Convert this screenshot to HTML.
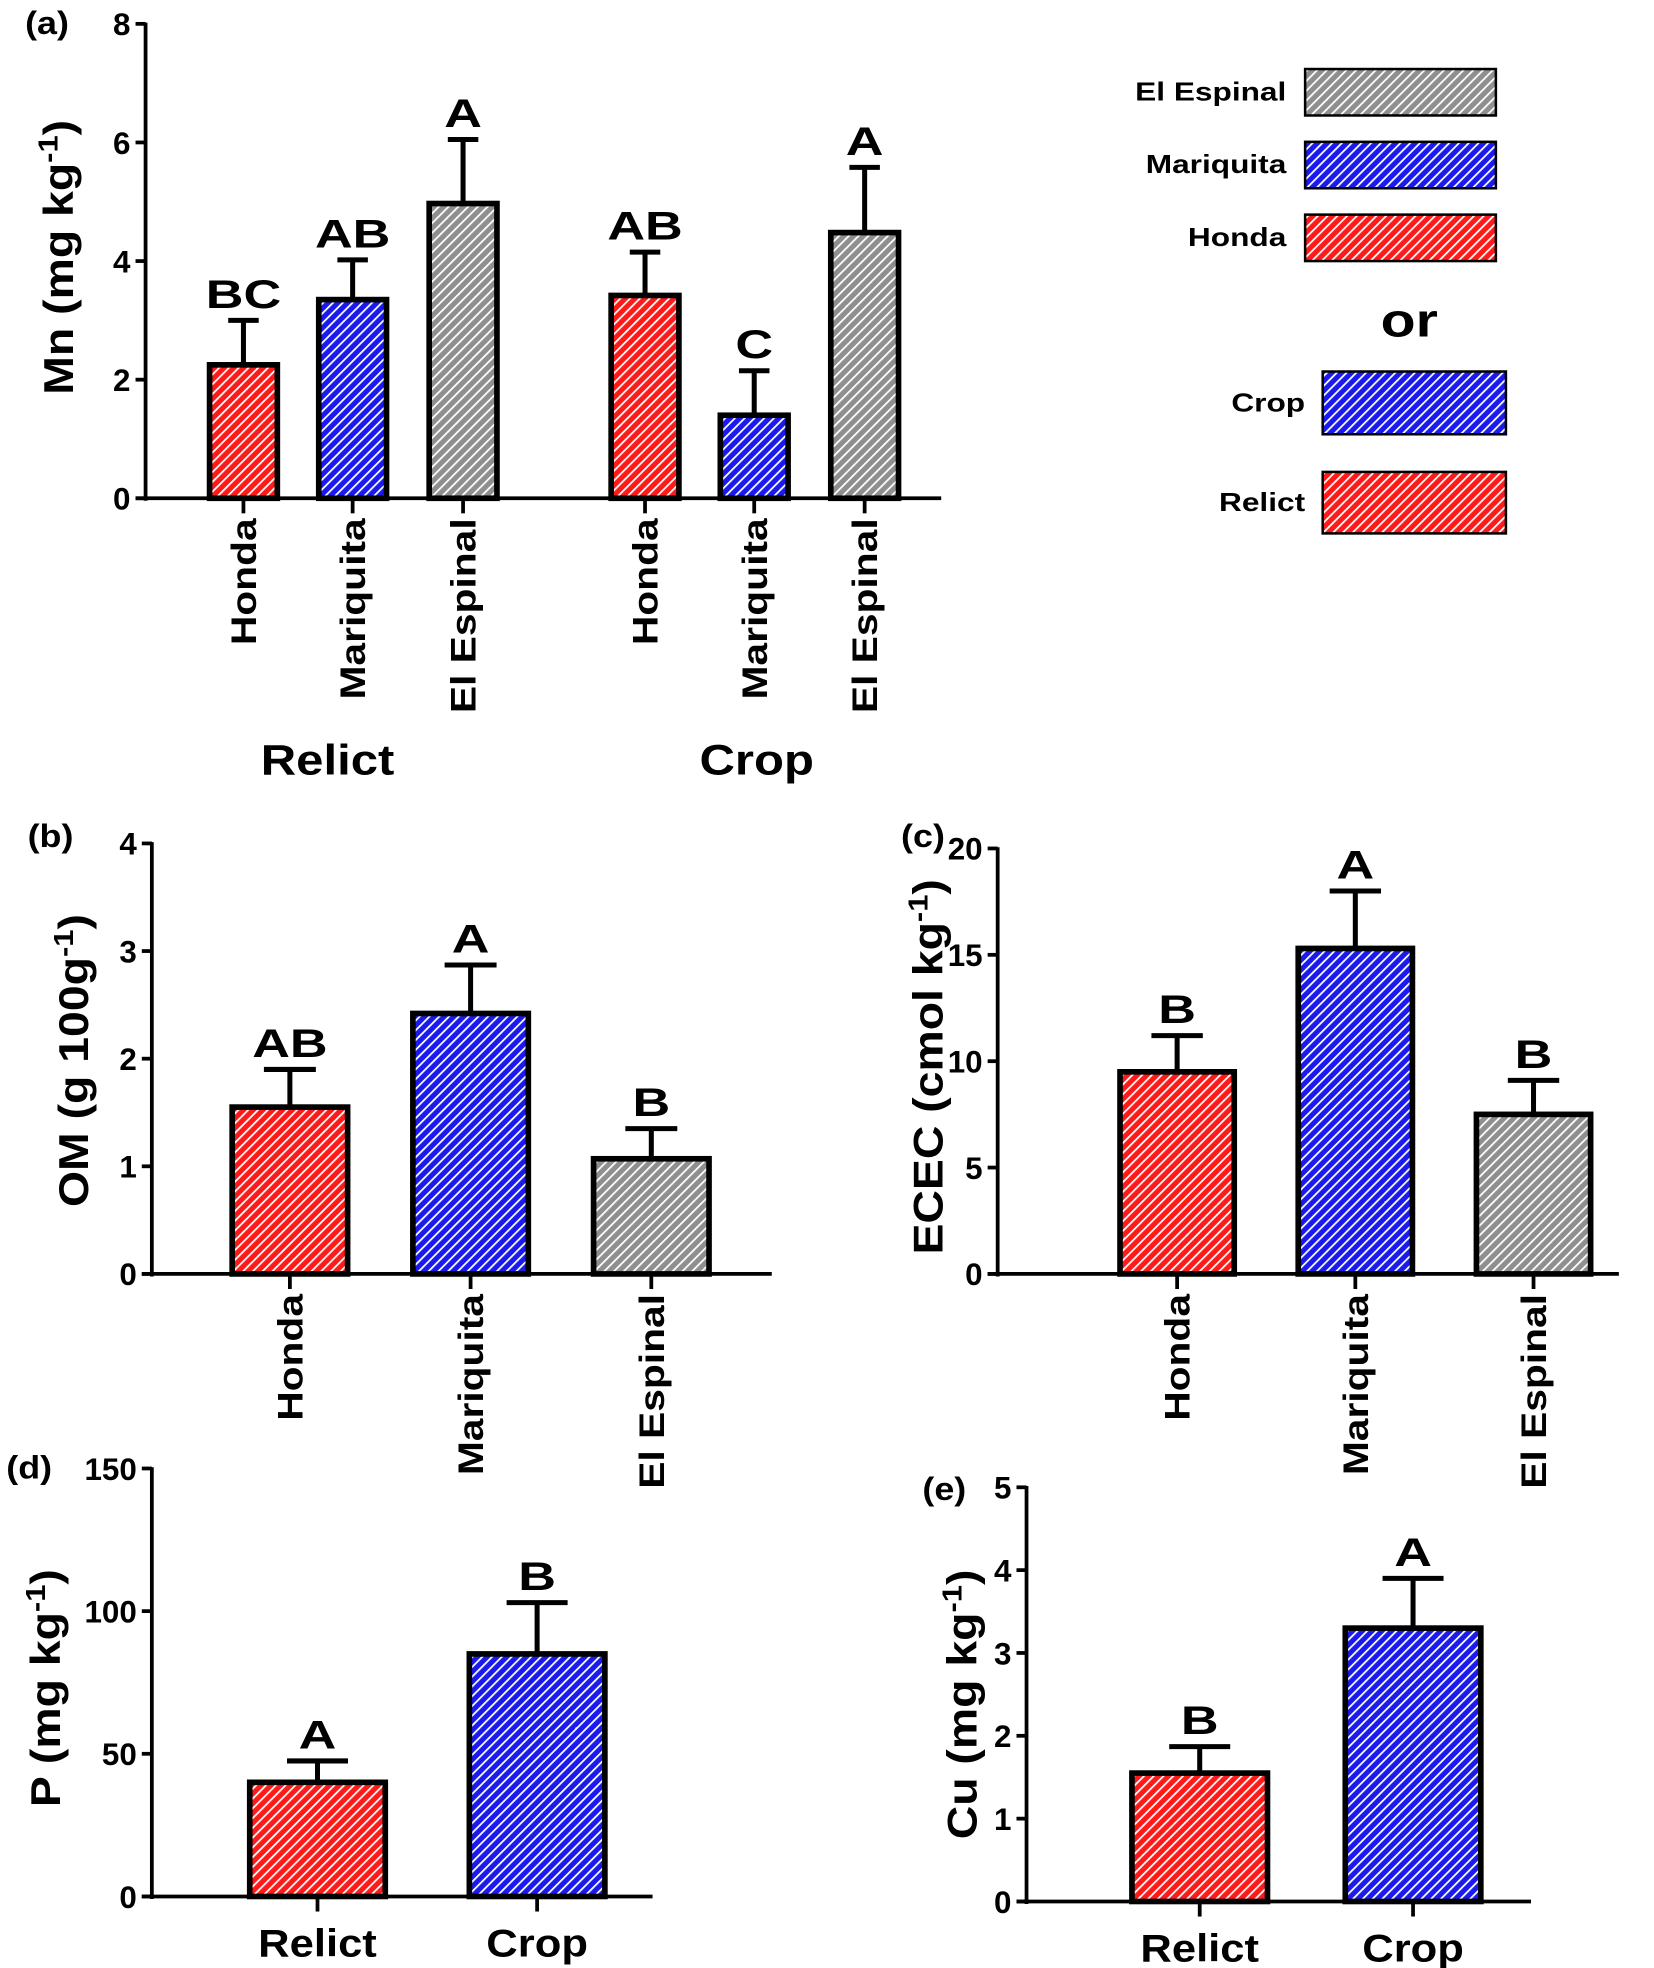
<!DOCTYPE html>
<html><head><meta charset="utf-8"><style>
html,body{margin:0;padding:0;background:#fff}
svg{display:block}
text{font-family:"Liberation Sans",Arial,sans-serif;font-weight:bold;fill:#000}
</style></head><body>
<svg id="fig" xmlns="http://www.w3.org/2000/svg" width="1654" height="1968" viewBox="0 0 1318 1568" preserveAspectRatio="none">
<defs>
<pattern id="hR" patternUnits="userSpaceOnUse" width="5.5" height="5.5" patternTransform="rotate(45)"><rect width="5.5" height="5.5" fill="#ff1a1a"/><rect x="0" width="1.4" height="5.5" fill="#fff"/></pattern>
<pattern id="hB" patternUnits="userSpaceOnUse" width="5.5" height="5.5" patternTransform="rotate(45)"><rect width="5.5" height="5.5" fill="#1a1aee"/><rect x="0" width="1.4" height="5.5" fill="#fff"/></pattern>
<pattern id="hG" patternUnits="userSpaceOnUse" width="5.5" height="5.5" patternTransform="rotate(45)"><rect width="5.5" height="5.5" fill="#8f8f8f"/><rect x="0" width="1.4" height="5.5" fill="#fff"/></pattern>
</defs>
</svg>
<script>
// Panel (a) Mn
const mnCategories = ['Honda','Mariquita','El Espinal','Honda','Mariquita','El Espinal'];
const mnValues = [2.25, 3.35, 4.97, 3.42, 1.4, 4.48];
const mnErrTop = [3.0, 4.02, 6.05, 4.15, 2.15, 5.58];
const mnLetters = ['BC','AB','A','AB','C','A'];
const mnTicks = [0,2,4,6,8];
// Panel (b) OM
const omCategories = ['Honda','Mariquita','El Espinal'];
const omValues = [1.55, 2.42, 1.07];
const omErrTop = [1.9, 2.87, 1.35];
const omLetters = ['AB','A','B'];
const omTicks = [0,1,2,3,4];
// Panel (c) ECEC
const ecCategories = ['Honda','Mariquita','El Espinal'];
const ecValues = [9.5, 15.3, 7.5];
const ecErrTop = [11.2, 18.0, 9.1];
const ecLetters = ['B','A','B'];
const ecTicks = [0,5,10,15,20];
// Panel (d) P
const pCategories = ['Relict','Crop'];
const pValues = [40, 85];
const pErrTop = [47.5, 103];
const pLetters = ['A','B'];
const pTicks = [0,50,100,150];
// Panel (e) Cu
const cuCategories = ['Relict','Crop'];
const cuValues = [1.55, 3.3];
const cuErrTop = [1.87, 3.9];
const cuLetters = ['B','A'];
const cuTicks = [0,1,2,3,4,5];

const svg = document.getElementById('fig');
const NS = 'http://www.w3.org/2000/svg';
function mk(tag, attrs, parent){const e=document.createElementNS(NS,tag);for(const k in attrs)e.setAttribute(k,attrs[k]);(parent||svg).appendChild(e);return e;}
function txt(s, attrs, parent){const e=mk('text',attrs,parent);e.textContent=s;return e;}
function wtxt(s, x, y, size, anchor, sx, parent, rot){
  const tr = 'translate('+x+','+y+')'+(rot?' rotate(-90)':'')+' scale('+sx+',1)';
  return txt(s,{x:0,y:0,'text-anchor':anchor,'font-size':size,transform:tr},parent);
}

function panel(cfg){
  const g = mk('g',{});
  
  
  const ymax = cfg.ticks[cfg.ticks.length-1];
  const y = v => cfg.y0 - (v/ymax)*(cfg.y0-cfg.yTop);
  const x = i => cfg.centers[i];
  const ya = mk('line',{x1:cfg.x0,y1:cfg.yTop-1,x2:cfg.x0,y2:cfg.y0+2,stroke:'#000','stroke-width':3},g);
  
  
  const xa = mk('line',{x1:cfg.x0-8,y1:cfg.y0,x2:cfg.xEnd,y2:cfg.y0,stroke:'#000','stroke-width':3},g);
  
  
  cfg.ticks.forEach(t=>{
    mk('line',{x1:cfg.x0-8,y1:y(t),x2:cfg.x0,y2:y(t),stroke:'#000','stroke-width':3},g);
    const tl = wtxt(String(t),cfg.x0-12,y(t)+9,25,'end',1.0,g,false);
    
    
  });
  cfg.values.forEach((v,i)=>{
    const cx = x(i), hw = cfg.barW/2;
    mk('line',{x1:cx,y1:y(cfg.err[i]),x2:cx,y2:y(v),stroke:'#000','stroke-width':4},g);
    mk('line',{x1:cx-hw*0.45,y1:y(cfg.err[i]),x2:cx+hw*0.45,y2:y(cfg.err[i]),stroke:'#000','stroke-width':4},g);
    const b = mk('rect',{x:cx-hw,y:y(v),width:cfg.barW,height:cfg.y0-y(v),fill:'url(#'+cfg.fills[i]+')',stroke:'#000','stroke-width':4.5},g);
    
    
    const l = wtxt(cfg.letters[i],cx,y(cfg.err[i])-10,32,'middle',1.3,g,false);
    
    
    mk('line',{x1:cx,y1:cfg.y0,x2:cx,y2:cfg.y0+12,stroke:'#000','stroke-width':3},g);
    let cl;
    if(cfg.rot){
      cl = wtxt(cfg.cats[i],cx+10,cfg.y0+16,28,'end',1.16,g,true);
    } else {
      cl = wtxt(cfg.cats[i],cx,cfg.y0+48,31,'middle',1.12,g,false);
    }
    
    
  });
  const t = mk('text',{x:0,y:0,'text-anchor':'middle','font-size':33,transform:'translate('+cfg.titleX+','+cfg.titleY+') rotate(-90) scale(1.12,1)'},g);
  t.innerHTML = cfg.title;
  
  
  const p = wtxt(cfg.label,cfg.labelX,cfg.labelY,26,'start',1.1,g,false);
  
  
  return g;
}

panel({name:'panel-a-mn',x0:116,y0:397,yTop:19,xEnd:750,ticks:mnTicks,values:mnValues,err:mnErrTop,letters:mnLetters,cats:mnCategories,
  centers:[194,281,369,514,601,689],barW:54,fills:['hR','hB','hG','hR','hB','hG'],rot:true,
  title:'Mn (mg kg<tspan baseline-shift="super" font-size="22">-1</tspan>)',titleX:58,titleY:205,label:'(a)',labelX:20,labelY:27});
const ga = svg.lastChild;
const r1 = wtxt('Relict',261,617,34,'middle',1.15,ga,false);


const r2 = wtxt('Crop',603,617,34,'middle',1.15,ga,false);



panel({name:'panel-b-om',x0:121,y0:1015,yTop:672,xEnd:615,ticks:omTicks,values:omValues,err:omErrTop,letters:omLetters,cats:omCategories,
  centers:[231,375,519],barW:92,fills:['hR','hB','hG'],rot:true,
  title:'OM (g 100g<tspan baseline-shift="super" font-size="22">-1</tspan>)',titleX:70,titleY:845,label:'(b)',labelX:22,labelY:675});
panel({name:'panel-c-ecec',x0:795,y0:1015,yTop:676,xEnd:1290,ticks:ecTicks,values:ecValues,err:ecErrTop,letters:ecLetters,cats:ecCategories,
  centers:[938,1080,1222],barW:91,fills:['hR','hB','hG'],rot:true,
  title:'ECEC (cmol kg<tspan baseline-shift="super" font-size="22">-1</tspan>)',titleX:751,titleY:850,label:'(c)',labelX:718,labelY:675});
panel({name:'panel-d-p',x0:121,y0:1511,yTop:1170,xEnd:520,ticks:pTicks,values:pValues,err:pErrTop,letters:pLetters,cats:pCategories,
  centers:[253,428],barW:108,fills:['hR','hB'],rot:false,
  title:'P (mg kg<tspan baseline-shift="super" font-size="22">-1</tspan>)',titleX:48,titleY:1345,label:'(d)',labelX:5,labelY:1178});
panel({name:'panel-e-cu',x0:818,y0:1515,yTop:1185,xEnd:1220,ticks:cuTicks,values:cuValues,err:cuErrTop,letters:cuLetters,cats:cuCategories,
  centers:[956,1126],barW:108,fills:['hR','hB'],rot:false,
  title:'Cu (mg kg<tspan baseline-shift="super" font-size="22">-1</tspan>)',titleX:778,titleY:1358,label:'(e)',labelX:735,labelY:1195});

// Legend
const leg = mk('g',{});


const legItems = [
  ['El Espinal','hG',1025,73,1040,55,152,37],
  ['Mariquita','hB',1025,131,1040,113,152,37],
  ['Honda','hR',1025,189,1040,171,152,37],
  ['Crop','hB',1040,321,1054,296,146,50],
  ['Relict','hR',1040,400,1054,376,146,49]
];
legItems.forEach(it=>{
  const e = mk('g',{},leg);
  
  
  wtxt(it[0],it[2],it[3]+7,21,'end',1.2,e,false);
  mk('rect',{x:it[4],y:it[5],width:it[6],height:it[7],fill:'url(#'+it[1]+')',stroke:'#000','stroke-width':2},e);
});
const orT = wtxt('or',1123,268,38,'middle',1.2,leg,false);


</script>
</body></html>
